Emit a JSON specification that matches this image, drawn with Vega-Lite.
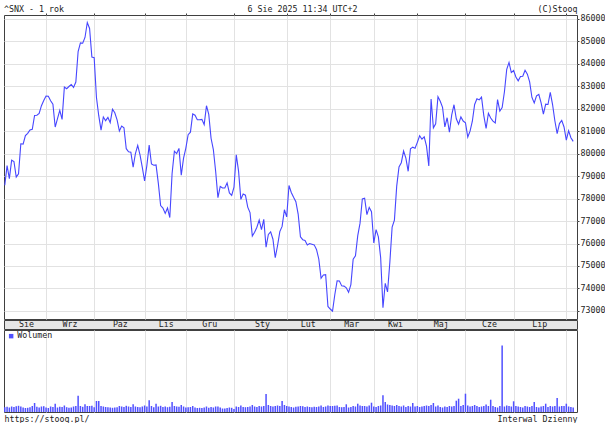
{
  "$schema": "https://vega.github.io/schema/vega-lite/v6.json",
  "padding": {"left": 3, "top": 3, "right": 0, "bottom": 0},
  "background": "white",
  "spacing": -1,
  "config": {
    "font": "DejaVu Sans Mono",
    "view": {"stroke": "#404040", "strokeWidth": 1},
    "axis": {"labelFont": "DejaVu Sans Mono", "labelFontSize": 8.3, "labelColor": "#222222", "titleFont": "DejaVu Sans Mono", "titleFontSize": 8.3, "titleFontWeight": "normal", "titleColor": "#222222", "gridColor": "#e2e2e2", "tickColor": "#404040", "domain": false},
    "title": {"font": "DejaVu Sans Mono", "fontSize": 8.3, "fontWeight": "normal", "color": "#222222"},
    "legend": {"labelFont": "DejaVu Sans Mono", "labelFontSize": 8.3, "labelColor": "#222222"}
  },
  "resolve": {"scale": {"x": "shared"}},
  "datasets": {
    "months": [
      {"date": "2024-08-20", "month": "Sie"},
      {"date": "2024-09-16", "month": "Wrz"},
      {"date": "2024-10-17", "month": "Paz"},
      {"date": "2024-11-18", "month": "Lis"},
      {"date": "2024-12-16", "month": "Gru"},
      {"date": "2025-01-17", "month": "Sty"},
      {"date": "2025-02-14", "month": "Lut"},
      {"date": "2025-03-17", "month": "Mar"},
      {"date": "2025-04-16", "month": "Kwi"},
      {"date": "2025-05-16", "month": "Maj"},
      {"date": "2025-06-16", "month": "Cze"},
      {"date": "2025-07-16", "month": "Lip"}
    ],
    "px": [
      {"date":"2024-08-06","close":78593,"volume":48},
      {"date":"2024-08-07","close":79468,"volume":52},
      {"date":"2024-08-08","close":78886,"volume":45},
      {"date":"2024-08-09","close":79706,"volume":55},
      {"date":"2024-08-12","close":79648,"volume":50},
      {"date":"2024-08-13","close":78956,"volume":58},
      {"date":"2024-08-14","close":79106,"volume":62},
      {"date":"2024-08-16","close":80437,"volume":55},
      {"date":"2024-08-19","close":80424,"volume":45},
      {"date":"2024-08-20","close":80803,"volume":40},
      {"date":"2024-08-21","close":80905,"volume":42},
      {"date":"2024-08-22","close":81053,"volume":48},
      {"date":"2024-08-23","close":81086,"volume":60},
      {"date":"2024-08-26","close":81698,"volume":90},
      {"date":"2024-08-27","close":81711,"volume":52},
      {"date":"2024-08-28","close":81785,"volume":45},
      {"date":"2024-08-29","close":82134,"volume":55},
      {"date":"2024-08-30","close":82365,"volume":58},
      {"date":"2024-09-02","close":82560,"volume":45},
      {"date":"2024-09-03","close":82555,"volume":40},
      {"date":"2024-09-04","close":82352,"volume":55},
      {"date":"2024-09-05","close":82201,"volume":50},
      {"date":"2024-09-06","close":81183,"volume":83},
      {"date":"2024-09-09","close":81559,"volume":45},
      {"date":"2024-09-10","close":81921,"volume":52},
      {"date":"2024-09-11","close":81523,"volume":50},
      {"date":"2024-09-12","close":82962,"volume":65},
      {"date":"2024-09-13","close":82890,"volume":48},
      {"date":"2024-09-16","close":82988,"volume":42},
      {"date":"2024-09-17","close":83079,"volume":45},
      {"date":"2024-09-18","close":82948,"volume":55},
      {"date":"2024-09-19","close":83184,"volume":60},
      {"date":"2024-09-20","close":84544,"volume":163},
      {"date":"2024-09-23","close":84928,"volume":60},
      {"date":"2024-09-24","close":84914,"volume":52},
      {"date":"2024-09-25","close":85170,"volume":77},
      {"date":"2024-09-26","close":85836,"volume":60},
      {"date":"2024-09-27","close":85571,"volume":60},
      {"date":"2024-09-30","close":84299,"volume":62},
      {"date":"2024-10-01","close":84266,"volume":48},
      {"date":"2024-10-03","close":82497,"volume":110},
      {"date":"2024-10-04","close":81688,"volume":110},
      {"date":"2024-10-07","close":81050,"volume":60},
      {"date":"2024-10-08","close":81634,"volume":55},
      {"date":"2024-10-09","close":81467,"volume":50},
      {"date":"2024-10-10","close":81611,"volume":48},
      {"date":"2024-10-11","close":81381,"volume":45},
      {"date":"2024-10-14","close":81973,"volume":42},
      {"date":"2024-10-15","close":81820,"volume":45},
      {"date":"2024-10-16","close":81501,"volume":48},
      {"date":"2024-10-17","close":81007,"volume":60},
      {"date":"2024-10-18","close":81225,"volume":55},
      {"date":"2024-10-21","close":81151,"volume":50},
      {"date":"2024-10-22","close":80220,"volume":62},
      {"date":"2024-10-23","close":80082,"volume":55},
      {"date":"2024-10-24","close":80065,"volume":50},
      {"date":"2024-10-25","close":79402,"volume":77},
      {"date":"2024-10-28","close":80005,"volume":55},
      {"date":"2024-10-29","close":80369,"volume":50},
      {"date":"2024-10-30","close":79942,"volume":48},
      {"date":"2024-10-31","close":79389,"volume":55},
      {"date":"2024-11-04","close":78782,"volume":65},
      {"date":"2024-11-05","close":79476,"volume":55},
      {"date":"2024-11-06","close":80378,"volume":117},
      {"date":"2024-11-07","close":79541,"volume":60},
      {"date":"2024-11-08","close":79486,"volume":48},
      {"date":"2024-11-11","close":79496,"volume":83},
      {"date":"2024-11-12","close":78675,"volume":55},
      {"date":"2024-11-13","close":77691,"volume":62},
      {"date":"2024-11-14","close":77580,"volume":50},
      {"date":"2024-11-18","close":77339,"volume":55},
      {"date":"2024-11-19","close":77578,"volume":48},
      {"date":"2024-11-21","close":77156,"volume":52},
      {"date":"2024-11-22","close":79117,"volume":100},
      {"date":"2024-11-25","close":80110,"volume":60},
      {"date":"2024-11-26","close":80004,"volume":55},
      {"date":"2024-11-27","close":80234,"volume":52},
      {"date":"2024-11-28","close":79044,"volume":70},
      {"date":"2024-11-29","close":79803,"volume":55},
      {"date":"2024-12-02","close":80248,"volume":45},
      {"date":"2024-12-03","close":80845,"volume":48},
      {"date":"2024-12-04","close":80956,"volume":50},
      {"date":"2024-12-05","close":81765,"volume":60},
      {"date":"2024-12-06","close":81709,"volume":45},
      {"date":"2024-12-09","close":81508,"volume":40},
      {"date":"2024-12-10","close":81510,"volume":42},
      {"date":"2024-12-11","close":81526,"volume":40},
      {"date":"2024-12-12","close":81289,"volume":45},
      {"date":"2024-12-13","close":82133,"volume":55},
      {"date":"2024-12-16","close":81748,"volume":42},
      {"date":"2024-12-17","close":80684,"volume":50},
      {"date":"2024-12-18","close":80182,"volume":45},
      {"date":"2024-12-19","close":79218,"volume":55},
      {"date":"2024-12-20","close":78041,"volume":55},
      {"date":"2024-12-23","close":78540,"volume":45},
      {"date":"2024-12-24","close":78472,"volume":35},
      {"date":"2024-12-26","close":78472,"volume":35},
      {"date":"2024-12-27","close":78699,"volume":40},
      {"date":"2024-12-30","close":78248,"volume":45},
      {"date":"2024-12-31","close":78139,"volume":42},
      {"date":"2025-01-01","close":78507,"volume":30},
      {"date":"2025-01-02","close":79943,"volume":55},
      {"date":"2025-01-03","close":79223,"volume":50},
      {"date":"2025-01-06","close":77965,"volume":65},
      {"date":"2025-01-07","close":78199,"volume":50},
      {"date":"2025-01-08","close":78148,"volume":48},
      {"date":"2025-01-09","close":77620,"volume":50},
      {"date":"2025-01-10","close":77379,"volume":55},
      {"date":"2025-01-13","close":76330,"volume":70},
      {"date":"2025-01-14","close":76499,"volume":55},
      {"date":"2025-01-15","close":76724,"volume":50},
      {"date":"2025-01-16","close":77042,"volume":60},
      {"date":"2025-01-17","close":76619,"volume":55},
      {"date":"2025-01-20","close":77073,"volume":60},
      {"date":"2025-01-21","close":75838,"volume":180},
      {"date":"2025-01-22","close":76405,"volume":70},
      {"date":"2025-01-23","close":76520,"volume":60},
      {"date":"2025-01-24","close":76190,"volume":55},
      {"date":"2025-01-27","close":75366,"volume":60},
      {"date":"2025-01-28","close":75901,"volume":65},
      {"date":"2025-01-29","close":76532,"volume":60},
      {"date":"2025-01-30","close":76760,"volume":110},
      {"date":"2025-01-31","close":77501,"volume":70},
      {"date":"2025-02-03","close":77187,"volume":60},
      {"date":"2025-02-04","close":78584,"volume":55},
      {"date":"2025-02-05","close":78271,"volume":50},
      {"date":"2025-02-06","close":78058,"volume":45},
      {"date":"2025-02-07","close":77860,"volume":52},
      {"date":"2025-02-10","close":77312,"volume":55},
      {"date":"2025-02-11","close":76294,"volume":60},
      {"date":"2025-02-12","close":76171,"volume":58},
      {"date":"2025-02-13","close":76139,"volume":50},
      {"date":"2025-02-14","close":75939,"volume":55},
      {"date":"2025-02-17","close":75997,"volume":50},
      {"date":"2025-02-18","close":75967,"volume":48},
      {"date":"2025-02-19","close":75939,"volume":52},
      {"date":"2025-02-20","close":75736,"volume":50},
      {"date":"2025-02-21","close":75311,"volume":55},
      {"date":"2025-02-24","close":74454,"volume":65},
      {"date":"2025-02-25","close":74602,"volume":50},
      {"date":"2025-02-27","close":74612,"volume":55},
      {"date":"2025-02-28","close":73198,"volume":65},
      {"date":"2025-03-03","close":73085,"volume":60},
      {"date":"2025-03-04","close":72990,"volume":60},
      {"date":"2025-03-05","close":73730,"volume":62},
      {"date":"2025-03-06","close":74340,"volume":65},
      {"date":"2025-03-07","close":74333,"volume":50},
      {"date":"2025-03-10","close":74115,"volume":48},
      {"date":"2025-03-11","close":74102,"volume":50},
      {"date":"2025-03-12","close":74030,"volume":77},
      {"date":"2025-03-13","close":73829,"volume":45},
      {"date":"2025-03-17","close":74170,"volume":50},
      {"date":"2025-03-18","close":75302,"volume":60},
      {"date":"2025-03-19","close":75449,"volume":55},
      {"date":"2025-03-20","close":76348,"volume":83},
      {"date":"2025-03-21","close":76906,"volume":65},
      {"date":"2025-03-24","close":77984,"volume":60},
      {"date":"2025-03-25","close":78017,"volume":60},
      {"date":"2025-03-26","close":77288,"volume":55},
      {"date":"2025-03-27","close":77607,"volume":65},
      {"date":"2025-03-28","close":77415,"volume":93},
      {"date":"2025-04-01","close":76025,"volume":55},
      {"date":"2025-04-02","close":76617,"volume":50},
      {"date":"2025-04-03","close":76295,"volume":60},
      {"date":"2025-04-04","close":75365,"volume":65},
      {"date":"2025-04-07","close":73138,"volume":167},
      {"date":"2025-04-08","close":74228,"volume":100},
      {"date":"2025-04-09","close":73847,"volume":75},
      {"date":"2025-04-11","close":75157,"volume":70},
      {"date":"2025-04-15","close":76735,"volume":65},
      {"date":"2025-04-16","close":77044,"volume":60},
      {"date":"2025-04-17","close":78553,"volume":70},
      {"date":"2025-04-21","close":79408,"volume":60},
      {"date":"2025-04-22","close":79596,"volume":55},
      {"date":"2025-04-23","close":80116,"volume":65},
      {"date":"2025-04-24","close":79801,"volume":50},
      {"date":"2025-04-25","close":79213,"volume":60},
      {"date":"2025-04-28","close":80218,"volume":55},
      {"date":"2025-04-29","close":80288,"volume":90},
      {"date":"2025-04-30","close":80242,"volume":55},
      {"date":"2025-05-02","close":80502,"volume":60},
      {"date":"2025-05-05","close":80797,"volume":50},
      {"date":"2025-05-06","close":80641,"volume":55},
      {"date":"2025-05-07","close":80747,"volume":60},
      {"date":"2025-05-08","close":80334,"volume":65},
      {"date":"2025-05-09","close":79454,"volume":60},
      {"date":"2025-05-12","close":82430,"volume":70},
      {"date":"2025-05-13","close":81148,"volume":90},
      {"date":"2025-05-14","close":81330,"volume":55},
      {"date":"2025-05-15","close":82531,"volume":65},
      {"date":"2025-05-16","close":82330,"volume":50},
      {"date":"2025-05-19","close":82059,"volume":45},
      {"date":"2025-05-20","close":81186,"volume":55},
      {"date":"2025-05-21","close":81597,"volume":50},
      {"date":"2025-05-22","close":80952,"volume":60},
      {"date":"2025-05-23","close":81721,"volume":55},
      {"date":"2025-05-26","close":82176,"volume":60},
      {"date":"2025-05-27","close":81551,"volume":113},
      {"date":"2025-05-28","close":81312,"volume":133},
      {"date":"2025-05-29","close":81633,"volume":60},
      {"date":"2025-05-30","close":81451,"volume":70},
      {"date":"2025-06-02","close":81374,"volume":183},
      {"date":"2025-06-03","close":80738,"volume":65},
      {"date":"2025-06-04","close":80998,"volume":55},
      {"date":"2025-06-05","close":81442,"volume":60},
      {"date":"2025-06-06","close":82189,"volume":70},
      {"date":"2025-06-09","close":82445,"volume":60},
      {"date":"2025-06-10","close":82392,"volume":50},
      {"date":"2025-06-11","close":82515,"volume":55},
      {"date":"2025-06-12","close":81692,"volume":60},
      {"date":"2025-06-13","close":81119,"volume":75},
      {"date":"2025-06-16","close":81796,"volume":60},
      {"date":"2025-06-17","close":81583,"volume":123},
      {"date":"2025-06-18","close":81445,"volume":60},
      {"date":"2025-06-19","close":81362,"volume":50},
      {"date":"2025-06-20","close":82408,"volume":45},
      {"date":"2025-06-23","close":81897,"volume":60},
      {"date":"2025-06-24","close":82055,"volume":666},
      {"date":"2025-06-25","close":82756,"volume":55},
      {"date":"2025-06-26","close":83755,"volume":65},
      {"date":"2025-06-27","close":84059,"volume":60},
      {"date":"2025-06-30","close":83607,"volume":55},
      {"date":"2025-07-01","close":83697,"volume":107},
      {"date":"2025-07-02","close":83410,"volume":60},
      {"date":"2025-07-03","close":83240,"volume":55},
      {"date":"2025-07-04","close":83433,"volume":50},
      {"date":"2025-07-07","close":83443,"volume":45},
      {"date":"2025-07-08","close":83713,"volume":60},
      {"date":"2025-07-09","close":83536,"volume":55},
      {"date":"2025-07-10","close":83190,"volume":50},
      {"date":"2025-07-11","close":82500,"volume":60},
      {"date":"2025-07-14","close":82253,"volume":100},
      {"date":"2025-07-15","close":82571,"volume":50},
      {"date":"2025-07-16","close":82634,"volume":45},
      {"date":"2025-07-17","close":82259,"volume":55},
      {"date":"2025-07-18","close":81758,"volume":60},
      {"date":"2025-07-21","close":82200,"volume":83},
      {"date":"2025-07-22","close":82187,"volume":50},
      {"date":"2025-07-23","close":82727,"volume":60},
      {"date":"2025-07-24","close":82185,"volume":55},
      {"date":"2025-07-25","close":81463,"volume":60},
      {"date":"2025-07-28","close":80891,"volume":140},
      {"date":"2025-07-29","close":81338,"volume":55},
      {"date":"2025-07-30","close":81482,"volume":60},
      {"date":"2025-07-31","close":81186,"volume":60},
      {"date":"2025-08-01","close":80600,"volume":83},
      {"date":"2025-08-04","close":81019,"volume":55},
      {"date":"2025-08-05","close":80710,"volume":50},
      {"date":"2025-08-06","close":80544,"volume":45}
    ]
  },
  "vconcat": [
    {
      "width": 573,
      "height": 304,
      "title": {"text": "^SNX - 1 rok", "anchor": "start", "frame": "group", "baseline": "alphabetic", "offset": 0, "dy": 16},
      "data": {"name": "px"},
      "mark": {"type": "line", "color": "#4646ff", "strokeWidth": 1.1, "clip": true},
      "encoding": {
        "x": {
          "field": "date", "type": "ordinal",
          "scale": {"type": "point", "padding": 2.59, "align": 0.17},
          "axis": {
            "orient": "top",
            "values": ["2024-09-02","2024-10-01","2024-11-04","2024-12-02","2025-01-01","2025-02-03","2025-03-03","2025-04-01","2025-05-02","2025-06-02","2025-07-01","2025-08-01"],
            "labels": false, "tickSize": 2, "grid": true,
            "title": "6 Sie 2025 11:34 UTC+2", "titleX": 298, "titleY": -4, "titleAlign": "center", "titleBaseline": "alphabetic"
          }
        },
        "y": {
          "field": "close", "type": "quantitative",
          "scale": {"domain": [72640, 86170], "nice": false, "zero": false},
          "axis": {
            "orient": "right",
            "values": [73000,74000,75000,76000,77000,78000,79000,80000,81000,82000,83000,84000,85000,86000],
            "format": "d", "tickSize": 2, "labelPadding": 1, "grid": true,
            "title": "(C)Stooq", "titleAngle": 0, "titleX": 0, "titleY": -4, "titleAlign": "right", "titleBaseline": "alphabetic"
          }
        }
      }
    },
    {
      "width": 573,
      "height": 9,
      "data": {"name": "months"},
      "view": {"fill": "#e6e6e6", "stroke": "#404040"},
      "mark": {"type": "text", "font": "DejaVu Sans Mono", "fontSize": 8.3, "color": "#222222", "baseline": "middle", "align": "center", "dx": 1, "clip": true},
      "encoding": {
        "x": {"field": "date", "type": "ordinal", "axis": null},
        "text": {"field": "month"}
      }
    },
    {
      "width": 573,
      "height": 82,
      "data": {"name": "px"},
      "mark": {"type": "bar", "width": 1.5, "clip": true},
      "encoding": {
        "x": {
          "field": "date", "type": "ordinal",
          "axis": {
            "orient": "bottom",
            "values": ["2024-09-02","2024-10-01","2024-11-04","2024-12-02","2025-01-01","2025-02-03","2025-03-03","2025-04-01","2025-05-02","2025-06-02","2025-07-01","2025-08-01"],
            "labels": false, "ticks": false, "grid": true,
            "title": "https://stooq.pl/", "titleX": 0, "titleY": 9, "titleAlign": "left", "titleBaseline": "alphabetic"
          }
        },
        "y": {
          "field": "volume", "type": "quantitative",
          "scale": {"domain": [0, 820], "nice": false},
          "axis": {
            "orient": "right", "labels": false, "ticks": false, "grid": false,
            "title": "Interwal Dzienny", "titleAngle": 0, "titleX": 0, "titleY": 91, "titleAlign": "right", "titleBaseline": "alphabetic"
          }
        },
        "color": {
          "datum": "Wolumen",
          "scale": {"range": ["#5050ff"]},
          "legend": {
            "orient": "none", "legendX": 3, "legendY": 317, "title": null, "padding": 0,
            "symbolType": "square", "symbolSize": 20, "symbolStrokeWidth": 0, "labelOffset": 2,
            "labelFontSize": 8.3,
            "encode": {"symbols": {"update": {"fill": {"value": "#0000c0"}, "stroke": {"value": "#0000c0"}}}}
          }
        }
      }
    }
  ]
}
